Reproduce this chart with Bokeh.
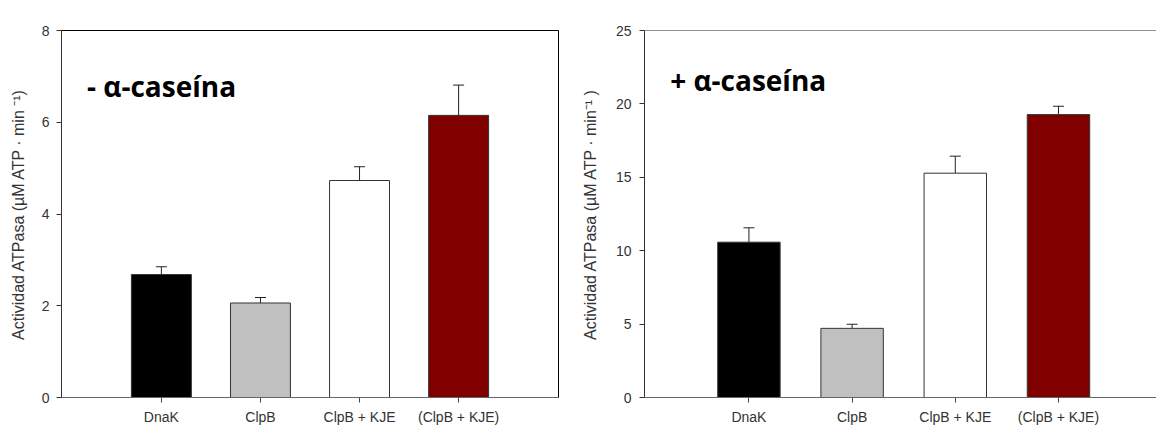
from bokeh.plotting import figure
from bokeh.layouts import row
from bokeh.models import Range1d, FixedTicker, Whisker, ColumnDataSource, Label, Span, TeeHead
from bokeh.embed import file_html
from bokeh.resources import INLINE
import numpy as np

categories = ["DnaK", "ClpB", "ClpB + KJE", "(ClpB + KJE)"]
bar_colors = ["#000000", "#c0c0c0", "#ffffff", "#800000"]

# - alpha-caseina
minus_values = [2.68, 2.06, 4.73, 6.15]
minus_errors = [0.17, 0.12, 0.30, 0.66]
# + alpha-caseina
plus_values = [10.58, 4.71, 15.28, 19.27]
plus_errors = [0.98, 0.28, 1.16, 0.57]

y_label_minus = "Actividad ATPasa (µM ATP · min ⁻¹)"
y_label_plus = "Actividad ATPasa (µM ATP · min⁻¹ )"

TICK_FONT = "Liberation Sans"


def make_panel(values, errors, ymax, yticks, title, ylabel, width, height,
               left, right, top, bottom, xr, label_xy, outline, label_standoff,
               tick_standoff):
    x = list(np.arange(1, len(categories) + 1))
    src = ColumnDataSource(dict(
        x=x, top=values, color=bar_colors,
        upper=[v + e for v, e in zip(values, errors)],
    ))
    p = figure(width=width, height=height, output_backend="svg",
               toolbar_location=None, x_range=Range1d(*xr),
               y_range=Range1d(0, ymax),
               min_border_left=left, min_border_right=right,
               min_border_top=top, min_border_bottom=bottom)
    p.background_fill_color = "white"
    p.border_fill_color = "white"
    p.xgrid.visible = False
    p.ygrid.visible = False
    if outline:
        p.outline_line_color = "#000000"
        p.outline_line_width = 1
    else:
        p.outline_line_color = None
        p.add_layout(Span(location=ymax, dimension="width",
                          line_color="#222222", line_width=1))

    p.vbar(x="x", top="top", width=0.605, bottom=0, fill_color="color",
           line_color="#333333", line_width=1, source=src)
    w = Whisker(base="x", lower="top", upper="upper", source=src,
                line_color="#222222", line_width=1,
                upper_head=TeeHead(size=11, line_color="#222222", line_width=1),
                lower_head=None)
    p.add_layout(w)

    # x axis
    xa = p.xaxis[0]
    xa.ticker = FixedTicker(ticks=x)
    xa.major_label_overrides = {int(i): c for i, c in zip(x, categories)}
    xa.major_label_text_font = TICK_FONT
    xa.major_label_text_font_size = "14px"
    xa.major_label_text_color = "#333333"
    xa.major_label_standoff = 6
    xa.minor_tick_line_color = None
    xa.major_tick_in = 0
    xa.major_tick_out = 5
    xa.axis_line_color = "#666666"
    xa.major_tick_line_color = "#444444"

    # y axis
    ya = p.yaxis[0]
    ya.ticker = FixedTicker(ticks=yticks)
    ya.major_label_text_font = TICK_FONT
    ya.major_label_text_font_size = "14px"
    ya.major_label_text_color = "#333333"
    ya.major_label_standoff = tick_standoff
    ya.minor_tick_line_color = None
    ya.major_tick_in = 0
    ya.major_tick_out = 5
    ya.axis_line_color = "#333333"
    ya.major_tick_line_color = "#333333"
    ya.axis_label = ylabel
    ya.axis_label_text_font = TICK_FONT
    ya.axis_label_text_font_size = "16px"
    ya.axis_label_text_font_style = "normal"
    ya.axis_label_text_color = "#333333"
    ya.axis_label_standoff = label_standoff

    p.add_layout(Label(x=label_xy[0], y=label_xy[1], text=title,
                       text_font="Open Sans", text_font_style="bold",
                       text_font_size="28px", text_color="#000000",
                       text_baseline="alphabetic"))
    return p


p1 = make_panel(minus_values, minus_errors, 8, [0, 2, 4, 6, 8], "- α-caseína",
                y_label_minus, 578, 429, 61, 20, 20, 31, (-0.008, 5.008),
                (0.25, 6.78), True, 12, 7)
p2 = make_panel(plus_values, plus_errors, 25, [0, 5, 10, 15, 20, 25], "+ α-caseína",
                y_label_plus, 578, 429, 60, 0, 30, 32, (-0.012, 4.95),
                (0.237, 21.6), False, 14, 8)

layout = row(p1, p2)
open("out.html", "w").write(file_html(layout, INLINE))
